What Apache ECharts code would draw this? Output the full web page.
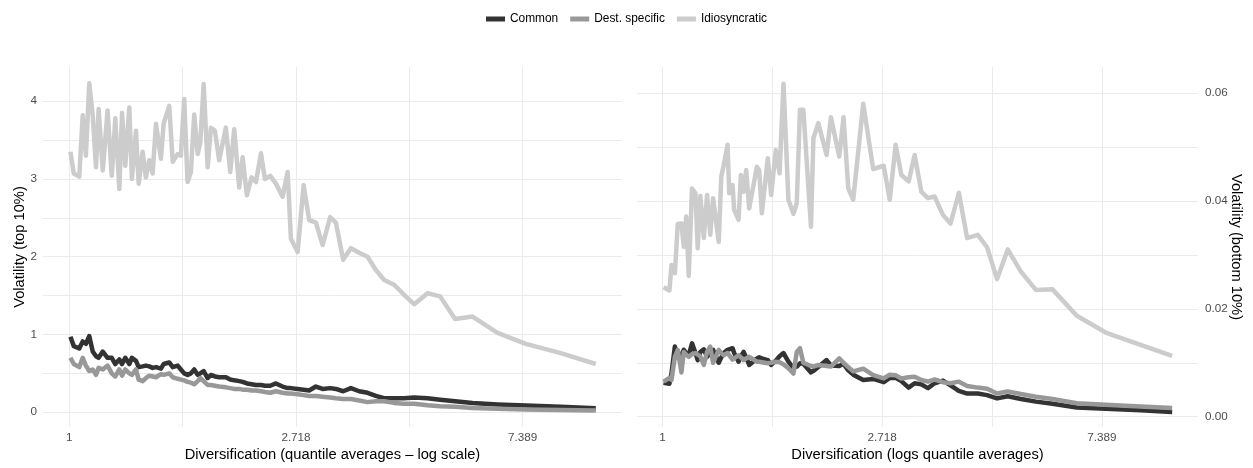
<!DOCTYPE html>
<html>
<head>
<meta charset="utf-8">
<title>Volatility vs diversification</title>
<script src="https://cdn.jsdelivr.net/npm/echarts@6/dist/echarts.min.js"></script>
<style>
    html, body { margin: 0; padding: 0; background: #fff; }
    #chart { width: 1253px; height: 468px; }
</style>
</head>
<body>
<div id="chart"></div>
<script>
//序列名称
var seriesNames = ['Common', 'Dest. specific', 'Idiosyncratic'];
var seriesColors = ['#333333', '#989898', '#cccccc'];

//x轴刻度（对数）
var xTickPos = [0, 1, 2];
var xTickLabels = ['1', '2.718', '7.389'];
var yLeftTicks = [0, 1, 2, 3, 4];
var yRightTicks = [0, 0.02, 0.04, 0.06];

//左图：Diversification (quantile averages)
var divLeft = [1.005, 1.020, 1.045, 1.061, 1.076, 1.092, 1.109, 1.125, 1.138, 1.159,
    1.184, 1.206, 1.225, 1.247, 1.262, 1.280, 1.303, 1.318, 1.342, 1.358,
    1.382, 1.402, 1.423, 1.444, 1.466, 1.498, 1.516, 1.554, 1.578, 1.613,
    1.636, 1.660, 1.685, 1.710, 1.735, 1.762, 1.782, 1.809, 1.841, 1.868,
    1.901, 1.937, 1.995, 2.034, 2.070, 2.116, 2.148, 2.189, 2.235, 2.278,
    2.329, 2.370, 2.426, 2.488, 2.562, 2.620, 2.658, 2.738, 2.811, 2.881,
    2.967, 3.057, 3.161, 3.241, 3.347, 3.463, 3.592, 3.727, 3.866, 4.010,
    4.191, 4.380, 4.578, 4.856, 5.134, 5.484, 5.922, 6.613, 7.490, 8.741, 10.200];
var commonTop = [0.97, 0.85, 0.82, 0.91, 0.88, 0.98, 0.78, 0.72, 0.70, 0.78,
    0.70, 0.70, 0.62, 0.68, 0.62, 0.70, 0.62, 0.70, 0.66, 0.58,
    0.59, 0.60, 0.59, 0.57, 0.58, 0.56, 0.62, 0.64, 0.58, 0.60,
    0.55, 0.50, 0.48, 0.50, 0.55, 0.48, 0.50, 0.53, 0.44, 0.48,
    0.46, 0.45, 0.45, 0.42, 0.41, 0.40, 0.39, 0.37, 0.36, 0.35,
    0.35, 0.34, 0.34, 0.37, 0.33, 0.31, 0.31, 0.30, 0.29, 0.28,
    0.33, 0.30, 0.31, 0.30, 0.27, 0.31, 0.27, 0.25, 0.21, 0.18,
    0.18, 0.18, 0.19, 0.18, 0.16, 0.14, 0.12, 0.10, 0.085, 0.07, 0.05];
var destTop = [0.70, 0.62, 0.58, 0.70, 0.60, 0.53, 0.55, 0.48, 0.57, 0.55,
    0.60, 0.50, 0.46, 0.55, 0.47, 0.55, 0.50, 0.48, 0.55, 0.42,
    0.40, 0.44, 0.47, 0.46, 0.45, 0.49, 0.48, 0.50, 0.45, 0.43,
    0.42, 0.41, 0.39, 0.38, 0.36, 0.40, 0.44, 0.40, 0.35, 0.35,
    0.34, 0.33, 0.32, 0.31, 0.30, 0.30, 0.29, 0.29, 0.28, 0.28,
    0.27, 0.26, 0.25, 0.27, 0.25, 0.24, 0.24, 0.23, 0.22, 0.21,
    0.21, 0.20, 0.19, 0.18, 0.17, 0.17, 0.15, 0.13, 0.14, 0.14,
    0.12, 0.11, 0.11, 0.09, 0.077, 0.07, 0.055, 0.045, 0.035, 0.028, 0.022];
var idioTop = [3.35, 3.07, 3.03, 3.82, 3.30, 4.23, 3.81, 3.15, 3.90, 3.11,
    3.88, 3.04, 3.78, 2.87, 3.85, 3.17, 3.92, 3.00, 3.62, 2.94,
    3.35, 3.02, 3.24, 3.07, 3.71, 3.26, 3.71, 3.94, 3.22, 3.32,
    3.30, 4.03, 2.96, 3.09, 3.83, 3.32, 3.47, 4.22, 3.15, 3.66,
    3.62, 3.24, 3.66, 3.09, 3.64, 2.89, 3.28, 2.79, 3.02, 2.96,
    3.33, 3.00, 3.04, 2.94, 2.77, 3.09, 2.23, 2.06, 2.92, 2.47,
    2.44, 2.15, 2.51, 2.44, 1.96, 2.11, 2.05, 2.00, 1.83, 1.70,
    1.64, 1.51, 1.39, 1.53, 1.49, 1.20, 1.23, 1.02, 0.88, 0.76, 0.62];

//右图：Diversification (logs quantile averages)
var divRight = [1.005, 1.032, 1.042, 1.058, 1.072, 1.090, 1.102, 1.114, 1.127, 1.144,
    1.162, 1.174, 1.188, 1.207, 1.225, 1.243, 1.259, 1.292, 1.307, 1.321,
    1.345, 1.355, 1.376, 1.386, 1.414, 1.429, 1.447, 1.464, 1.484, 1.537,
    1.553, 1.572, 1.615, 1.640, 1.675, 1.704, 1.735, 1.774, 1.815, 1.843,
    1.870, 1.899, 1.966, 1.988, 2.033, 2.111, 2.153, 2.236, 2.280, 2.330,
    2.383, 2.494, 2.610, 2.738, 2.814, 2.891, 2.967, 3.067, 3.152, 3.249,
    3.349, 3.451, 3.585, 3.711, 3.855, 4.003, 4.202, 4.383, 4.587, 4.815,
    5.114, 5.474, 5.905, 6.594, 7.521, 8.816, 10.179];
var commonBottom = [0.0063, 0.0061, 0.0080, 0.0130, 0.0110, 0.0115, 0.0124, 0.0118, 0.0114, 0.0136,
    0.0118, 0.0105, 0.0120, 0.0125, 0.0111, 0.0118, 0.0124, 0.0100, 0.0110, 0.0118,
    0.0124, 0.0126, 0.0127, 0.0118, 0.0102, 0.0112, 0.0120, 0.0110, 0.0096, 0.0108,
    0.0110, 0.0108, 0.0105, 0.0096, 0.0104, 0.0112, 0.0118, 0.0102, 0.0090, 0.0093,
    0.0099, 0.0098, 0.0082, 0.0085, 0.0092, 0.0105, 0.0095, 0.0094, 0.0098, 0.0086,
    0.0078, 0.0068, 0.0070, 0.0064, 0.0072, 0.0072, 0.0066, 0.0054, 0.0062, 0.0060,
    0.0053, 0.0062, 0.0067, 0.0058, 0.0048, 0.0043, 0.0043, 0.0040, 0.0034, 0.0038,
    0.0033, 0.0028, 0.0024, 0.0017, 0.0015, 0.0012, 0.0009];
var destBottom = [0.0065, 0.0072, 0.0068, 0.0111, 0.0124, 0.0082, 0.0120, 0.0115, 0.0111, 0.0116,
    0.0118, 0.0115, 0.0112, 0.0096, 0.0120, 0.0130, 0.0100, 0.0124, 0.0118, 0.0114,
    0.0118, 0.0120, 0.0106, 0.0105, 0.0114, 0.0110, 0.0105, 0.0108, 0.0111, 0.0102,
    0.0102, 0.0101, 0.0099, 0.0100, 0.0102, 0.0101, 0.0097, 0.0090, 0.0080, 0.0120,
    0.0127, 0.0100, 0.0094, 0.0093, 0.0096, 0.0094, 0.0093, 0.0108, 0.0100, 0.0092,
    0.0084, 0.0089, 0.0077, 0.0071, 0.0078, 0.0077, 0.0071, 0.0073, 0.0074, 0.0068,
    0.0065, 0.0069, 0.0064, 0.0062, 0.0065, 0.0057, 0.0054, 0.0052, 0.0043, 0.0047,
    0.0042, 0.0037, 0.0033, 0.0025, 0.0022, 0.0019, 0.0016];
var idioBottom = [0.0240, 0.0234, 0.0281, 0.0266, 0.0357, 0.0358, 0.0315, 0.0371, 0.0261, 0.0423,
    0.0414, 0.0312, 0.0409, 0.0331, 0.0411, 0.0337, 0.0405, 0.0324, 0.0445, 0.0465,
    0.0504, 0.0414, 0.0429, 0.0383, 0.0365, 0.0448, 0.0417, 0.0457, 0.0386, 0.0463,
    0.0457, 0.0377, 0.0479, 0.0411, 0.0494, 0.0451, 0.0617, 0.0402, 0.0376, 0.0396,
    0.0569, 0.0569, 0.0352, 0.0516, 0.0544, 0.0485, 0.0555, 0.0482, 0.0555, 0.0423,
    0.0402, 0.0580, 0.0459, 0.0465, 0.0402, 0.0504, 0.0448, 0.0436, 0.0485, 0.0417,
    0.0405, 0.0408, 0.0374, 0.0358, 0.0415, 0.0331, 0.0337, 0.0314, 0.0255, 0.0310,
    0.0269, 0.0235, 0.0236, 0.0187, 0.0156, 0.0133, 0.0113];

var FONT = '"Liberation Sans", Arial, Helvetica, sans-serif';
var GRID_COLOR = '#ebebeb';

init();

function init() {
    var myChart = echarts.init(document.getElementById('chart'), null, {renderer: 'canvas'});
    myChart.setOption(buildOption());
}

//x 取自然对数，轴上显示原值
function toPairs(xs, ys) {
    var out = [];
    for (var i = 0; i < xs.length; i++) {
        out.push([Math.log(xs[i]), ys[i]]);
    }
    return out;
}

function steps(from, to, step) {
    var out = [];
    for (var v = from; v <= to + step / 2; v += step) {
        out.push(Math.round(v / step) * step);
    }
    return out;
}

function xAxisOf(idx, title) {
    return {
        gridIndex: idx,
        type: 'value',
        min: -0.116,
        max: 2.438,
        name: title,
        nameLocation: 'middle',
        nameGap: 20,
        nameMoveOverlap: false,
        nameTextStyle: {color: '#000', fontSize: 14.7, fontFamily: FONT},
        axisLine: {show: false},
        axisTick: {show: false, customValues: steps(0, 2.4, 0.5)},
        axisLabel: {
            customValues: xTickPos,
            color: '#4d4d4d', fontSize: 11.7, fontFamily: FONT, margin: 5,
            formatter: function (v) { return xTickLabels[Math.round(v)]; }
        },
        splitLine: {show: true, lineStyle: {color: GRID_COLOR, width: 1}}
    };
}

function lineSeries(name, k, idx, xs, ys) {
    return {
        name: name,
        type: 'line',
        xAxisIndex: idx,
        yAxisIndex: idx,
        data: toPairs(xs, ys),
        showSymbol: false,
        symbol: 'none',
        silent: true,
        lineStyle: {color: seriesColors[k], width: 4.5, cap: 'butt', join: 'round'},
        itemStyle: {color: seriesColors[k]}
    };
}

function buildOption() {
    return {
        animation: false,
        backgroundColor: '#fff',
        textStyle: {fontFamily: FONT},
        legend: {
            data: seriesNames,
            top: 8,
            left: 'center',
            icon: 'rect',
            itemWidth: 19,
            itemHeight: 5,
            itemGap: 12,
            textStyle: {color: '#000', fontSize: 11.9, fontFamily: FONT}
        },
        grid: [
            {left: 43, top: 67, width: 579, height: 360, outerBoundsMode: 'none', containLabel: false},
            {left: 637, top: 67, width: 561, height: 360, outerBoundsMode: 'none', containLabel: false}
        ],
        xAxis: [
            xAxisOf(0, 'Diversification (quantile averages \u2013 log scale)'),
            xAxisOf(1, 'Diversification (logs quantile averages)')
        ],
        yAxis: [
            {
                gridIndex: 0,
                type: 'value',
                min: -0.19,
                max: 4.44,
                name: 'Volatility (top 10%)',
                nameLocation: 'middle',
                nameGap: 16,
                nameMoveOverlap: false,
                nameTextStyle: {color: '#000', fontSize: 14.7, fontFamily: FONT},
                axisLine: {show: false},
                axisTick: {show: false, customValues: steps(0, 4, 0.5)},
                axisLabel: {customValues: yLeftTicks, color: '#4d4d4d', fontSize: 11.7, fontFamily: FONT, margin: 6},
                splitLine: {show: true, lineStyle: {color: GRID_COLOR, width: 1}}
            },
            {
                gridIndex: 1,
                type: 'value',
                position: 'right',
                min: -0.0019,
                max: 0.0648,
                name: 'Volatility (bottom 10%)',
                nameLocation: 'middle',
                nameRotate: -90,
                nameGap: 31,
                nameMoveOverlap: false,
                nameTextStyle: {color: '#000', fontSize: 14.7, fontFamily: FONT},
                axisLine: {show: false},
                axisTick: {show: false, customValues: steps(0, 0.06, 0.01)},
                axisLabel: {
                    customValues: yRightTicks, color: '#4d4d4d', fontSize: 11.7, fontFamily: FONT, margin: 7,
                    formatter: function (v) { return v.toFixed(2); }
                },
                splitLine: {show: true, lineStyle: {color: GRID_COLOR, width: 1}}
            }
        ],
        series: [
            lineSeries(seriesNames[0], 0, 0, divLeft, commonTop),
            lineSeries(seriesNames[1], 1, 0, divLeft, destTop),
            lineSeries(seriesNames[2], 2, 0, divLeft, idioTop),
            lineSeries(seriesNames[0], 0, 1, divRight, commonBottom),
            lineSeries(seriesNames[1], 1, 1, divRight, destBottom),
            lineSeries(seriesNames[2], 2, 1, divRight, idioBottom)
        ]
    };
}
</script>
</body>
</html>
